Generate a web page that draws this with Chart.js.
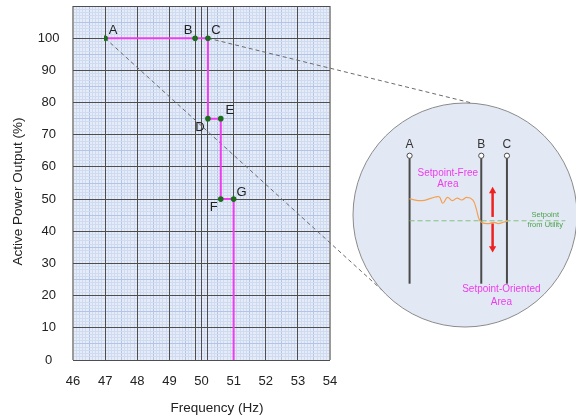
<!DOCTYPE html>
<html><head><meta charset="utf-8">
<script src="https://cdn.jsdelivr.net/npm/chart.js@4/dist/chart.umd.min.js"></script>
<style>
html,body{margin:0;padding:0;background:#fff;overflow:hidden;width:576px;height:419px;}
#wrap{position:relative;width:576px;height:419px;}
#main{position:absolute;left:0;top:0;}
#inset{position:absolute;left:353px;top:103px;}
</style></head><body>
<div id="wrap"><canvas id="main" width="576" height="419"></canvas><canvas id="inset" width="224" height="224"></canvas></div>
<script>
// ---------- main chart data ----------
const frequencyHz = [47, 49.8, 50.2, 50.2, 50.6, 50.6, 51, 51];
const powerPct    = [100, 100, 100, 75, 75, 50, 50, 0];
const pointNames  = ['A', 'B', 'C', 'D', 'E', 'F', 'G', ''];
const xTickLabels = ['46', '47', '48', '49', '50', '51', '52', '53', '54'];
const yTickLabels = ['0', '10', '20', '30', '40', '50', '60', '70', '80', '90', '100'];
const markerFreqs = [49.8, 50.2];
const xRange = [46, 54];
const yRange = [0, 110];

// ---------- inset (schematic) data ----------
const insetLineNames = ['A', 'B', 'C'];
const insetLineX = [24.1, 57.6, 69.6];
const insetLineY = [17.9, 77.7];
const signalX = [24.0, 29.9, 34.4, 37.9, 39.6, 41.8, 44.1, 46.3, 48.5, 50.8, 53.7, 55.2, 56.7, 58.2, 61.2, 63.4, 65.6, 67.9, 70.1];
const signalY = [57.5, 56.7, 57.9, 58.5, 55.5, 58.2, 56.7, 57.9, 57.0, 58.2, 57.0, 53.1, 47.8, 46.3, 46.0, 46.6, 46.0, 46.6, 47.2];
const setpointX = [24.1, 96.9];
const setpointY = [47.3, 47.3];
const arrowX = 62.9;
const arrowUpY = [49.1, 61.2];
const arrowDownY = [46.0, 34.4];
const insetTexts = [['Setpoint-Free', 'Area'], ['Setpoint-Oriented', 'Area'], ['Setpoint', 'from Utility']];

// ---------- styles / layout ----------
Chart.defaults.font.family = "'Liberation Sans', Arial, sans-serif";
const C_DARK = '#4e4e4e', C_EDGE = '#9a9a9a', C_MID = '#b3c5e6', C_LIGHT = '#cfdbf0', C_BG = '#e5ecf7';
const PINK = '#f03cf0', GREEN_PT = '#1d6b1d';
const labelOffsets = [[8, -8], [-7, -8], [8, -8], [-8, 9], [9, -8], [-7, 8.5], [8, -7], [0, 0]];
const circle = {cx: 465, cy: 215, r: 112};
const connectorAngles = [138, -86]; // where dashed lines from A and C meet the circle (deg)
const insetTextPos = [{x: 42.0, y: [69.6, 64.3], size: 10, color: '#ee3cee'},
                      {x: 67.0, y: [15.2, 9.4], size: 10, color: '#ee3cee'},
                      {x: 87.5, y: [49.8, 45.2], size: 7.5, color: '#4ea24e'}];

const xMinorTicks = [];
for (let i = 0; i <= Math.round((xRange[1] - xRange[0]) * 10); i++) xMinorTicks.push(Math.round((xRange[0] + i / 10) * 10) / 10);
const yMinorTicks = [];
for (let v = yRange[0]; v <= yRange[1]; v++) yMinorTicks.push(v);
const xMajorTicks = xTickLabels.map(Number).concat(markerFreqs).sort((a, b) => a - b);
const yMajorTicks = yTickLabels.map(Number).concat([yRange[1]]);

const mainDecor = {
  id: 'mainDecor',
  beforeDraw(chart) {
    const a = chart.chartArea, ctx = chart.ctx;
    ctx.save(); ctx.fillStyle = C_BG; ctx.fillRect(a.left, a.top, a.right - a.left, a.bottom - a.top); ctx.restore();
  },
  afterLayout(chart) {
    chart.scales.x.left += 31;
    chart.scales.y.top += 17;
  },
  beforeDatasetsDraw(chart) {
    const ctx = chart.ctx, xs = chart.scales.x, ys = chart.scales.y;
    const from = [0, 2];
    ctx.save();
    ctx.strokeStyle = '#6a6a6a'; ctx.lineWidth = 1; ctx.setLineDash([4, 3]);
    from.forEach((idx, k) => {
      const px = xs.getPixelForValue(frequencyHz[idx]), py = ys.getPixelForValue(powerPct[idx]);
      const ang = connectorAngles[k] * Math.PI / 180;
      ctx.beginPath(); ctx.moveTo(px, py);
      ctx.lineTo(circle.cx + circle.r * Math.cos(ang), circle.cy + circle.r * Math.sin(ang));
      ctx.stroke();
    });
    ctx.restore();
  },
  afterDatasetsDraw(chart) {
    const ctx = chart.ctx, xs = chart.scales.x, ys = chart.scales.y;
    ctx.save();
    ctx.font = "13px 'Liberation Sans', Arial, sans-serif";
    ctx.fillStyle = '#222'; ctx.textAlign = 'center'; ctx.textBaseline = 'middle';
    pointNames.forEach((n, i) => {
      if (!n) return;
      ctx.fillText(n, xs.getPixelForValue(frequencyHz[i]) + labelOffsets[i][0], ys.getPixelForValue(powerPct[i]) + labelOffsets[i][1]);
    });
    ctx.restore();
  },
  afterDraw(chart) {
    const ctx = chart.ctx;
    ctx.save();
    ctx.beginPath(); ctx.arc(circle.cx, circle.cy, circle.r, 0, Math.PI * 2);
    ctx.fillStyle = '#e3e9f4'; ctx.fill();
    ctx.strokeStyle = '#8a8a8a'; ctx.lineWidth = 1; ctx.stroke();
    ctx.restore();
  }
};

function xMinorColor(v) { const t = Math.round(v * 10); return t % 5 === 0 ? C_MID : C_LIGHT; }
function xMajorColor(v) { return (v === xRange[0] || v === xRange[1]) ? C_EDGE : C_DARK; }
function yMinorColor(v) { return v % 5 === 0 ? C_MID : C_LIGHT; }

new Chart(document.getElementById('main'), {
  type: 'line',
  data: {
    datasets: [{
      data: frequencyHz.map((f, i) => ({x: f, y: powerPct[i]})),
      borderColor: PINK, borderWidth: 2, tension: 0,
      pointRadius: frequencyHz.map((f, i) => pointNames[i] ? 2.8 : 0),
      pointBackgroundColor: GREEN_PT, pointBorderWidth: 0,
      xAxisID: 'x', yAxisID: 'y'
    }]
  },
  options: {
    responsive: false, animation: false, events: [],
    layout: {padding: {left: 0, top: 6, right: 246, bottom: 0}},
    plugins: {legend: {display: false}, tooltip: {enabled: false}},
    scales: {
      x2: {
        type: 'linear', position: 'bottom', min: xRange[0], max: xRange[1],
        afterBuildTicks: s => { s.ticks = xMinorTicks.map(v => ({value: v})); },
        ticks: {display: false}, border: {display: false},
        grid: {drawTicks: false, z: -2, lineWidth: 1, color: c => xMinorColor(c.tick.value)},
        afterFit: s => { s.height = 0; s.paddingLeft = 0; s.paddingRight = 0; }
      },
      y2: {
        type: 'linear', position: 'left', min: yRange[0], max: yRange[1],
        afterBuildTicks: s => { s.ticks = yMinorTicks.map(v => ({value: v})); },
        ticks: {display: false}, border: {display: false},
        grid: {drawTicks: false, z: -2, lineWidth: 1, color: c => yMinorColor(c.tick.value)},
        afterFit: s => { s.width = 0; s.paddingTop = 0; s.paddingBottom = 0; }
      },
      x: {
        type: 'linear', position: 'bottom', min: xRange[0], max: xRange[1],
        afterBuildTicks: s => { s.ticks = xMajorTicks.map(v => ({value: v})); },
        ticks: {
          autoSkip: false, maxRotation: 0, padding: 14, color: '#222', font: {size: 13},
          callback: v => { const l = xTickLabels.find(t => Math.abs(Number(t) - v) < 1e-6); return l === undefined ? '' : l; }
        },
        border: {display: false},
        grid: {drawTicks: false, z: -1, color: c => xMajorColor(c.tick.value),
               lineWidth: c => (c.tick.value === xRange[0] || c.tick.value === xRange[1]) ? 2 : 1},
        title: {display: true, text: 'Frequency (Hz)', color: '#222', font: {size: 13.5}, padding: {top: 0, bottom: 3}},
        afterFit: s => { s.height = 59; }
      },
      y: {
        type: 'linear', position: 'left', min: yRange[0], max: yRange[1],
        afterBuildTicks: s => { s.ticks = yMajorTicks.map(v => ({value: v})); },
        ticks: {
          autoSkip: false, crossAlign: 'center', padding: 13.5, color: '#222', font: {size: 13},
          callback: v => yTickLabels.includes(String(v)) ? String(v) : ''
        },
        border: {display: false},
        grid: {drawTicks: false, z: -1, color: C_DARK, lineWidth: 1},
        title: {display: true, text: 'Active Power Output (%)', color: '#222', font: {size: 13.5}, padding: {top: 10, bottom: 0}},
        afterFit: s => { s.width = 73; s.paddingTop = 0; }
      }
    }
  },
  plugins: [mainDecor]
});

// ---------- inset chart ----------
const insetDecor = {
  id: 'insetDecor',
  afterDraw(chart) {
    const ctx = chart.ctx, xs = chart.scales.x, ys = chart.scales.y;
    ctx.save();
    ctx.textAlign = 'center'; ctx.textBaseline = 'middle';
    ctx.fillStyle = '#333'; ctx.font = "12px 'Liberation Sans', Arial, sans-serif";
    insetLineNames.forEach((n, i) => ctx.fillText(n, xs.getPixelForValue(insetLineX[i]), ys.getPixelForValue(insetLineY[1]) - 11));
    insetTexts.forEach((lines, i) => {
      const p = insetTextPos[i];
      ctx.fillStyle = p.color; ctx.font = p.size + "px 'Liberation Sans', Arial, sans-serif";
      lines.forEach((t, j) => ctx.fillText(t, xs.getPixelForValue(p.x), ys.getPixelForValue(p.y[j])));
    });
    ctx.restore();
  }
};

new Chart(document.getElementById('inset'), {
  type: 'line',
  data: {
    datasets: [
      {data: arrowUpY.map(y => ({x: arrowX, y})), borderColor: '#ee2020', borderWidth: 2.5,
       pointRadius: [0, 4.2], pointStyle: 'triangle', pointRotation: [0, 0], pointBackgroundColor: '#ee2020', pointBorderWidth: 0},
      {data: arrowDownY.map(y => ({x: arrowX, y})), borderColor: '#ee2020', borderWidth: 2.5,
       pointRadius: [0, 4.2], pointStyle: 'triangle', pointRotation: [0, 180], pointBackgroundColor: '#ee2020', pointBorderWidth: 0},
      {data: signalX.map((x, i) => ({x, y: signalY[i]})), borderColor: '#f5a050', borderWidth: 1.2, tension: 0.4, pointRadius: 0},
      {data: setpointX.map((x, i) => ({x, y: setpointY[i]})), borderColor: '#80c080', borderWidth: 1, borderDash: [5, 3], pointRadius: 0},
      ...insetLineX.map(x => ({
        data: insetLineY.map(y => ({x, y})), borderColor: '#4a4a4a', borderWidth: 2,
        pointRadius: [0, 2.6], pointBackgroundColor: '#fff', pointBorderColor: '#4a4a4a', pointBorderWidth: 1
      }))
    ]
  },
  options: {
    responsive: false, animation: false, events: [],
    layout: {padding: 0},
    plugins: {legend: {display: false}, tooltip: {enabled: false}},
    scales: {
      x: {type: 'linear', min: 0, max: 100, display: false},
      y: {type: 'linear', min: 0, max: 100, display: false}
    }
  },
  plugins: [insetDecor]
});
</script>
</body></html>
